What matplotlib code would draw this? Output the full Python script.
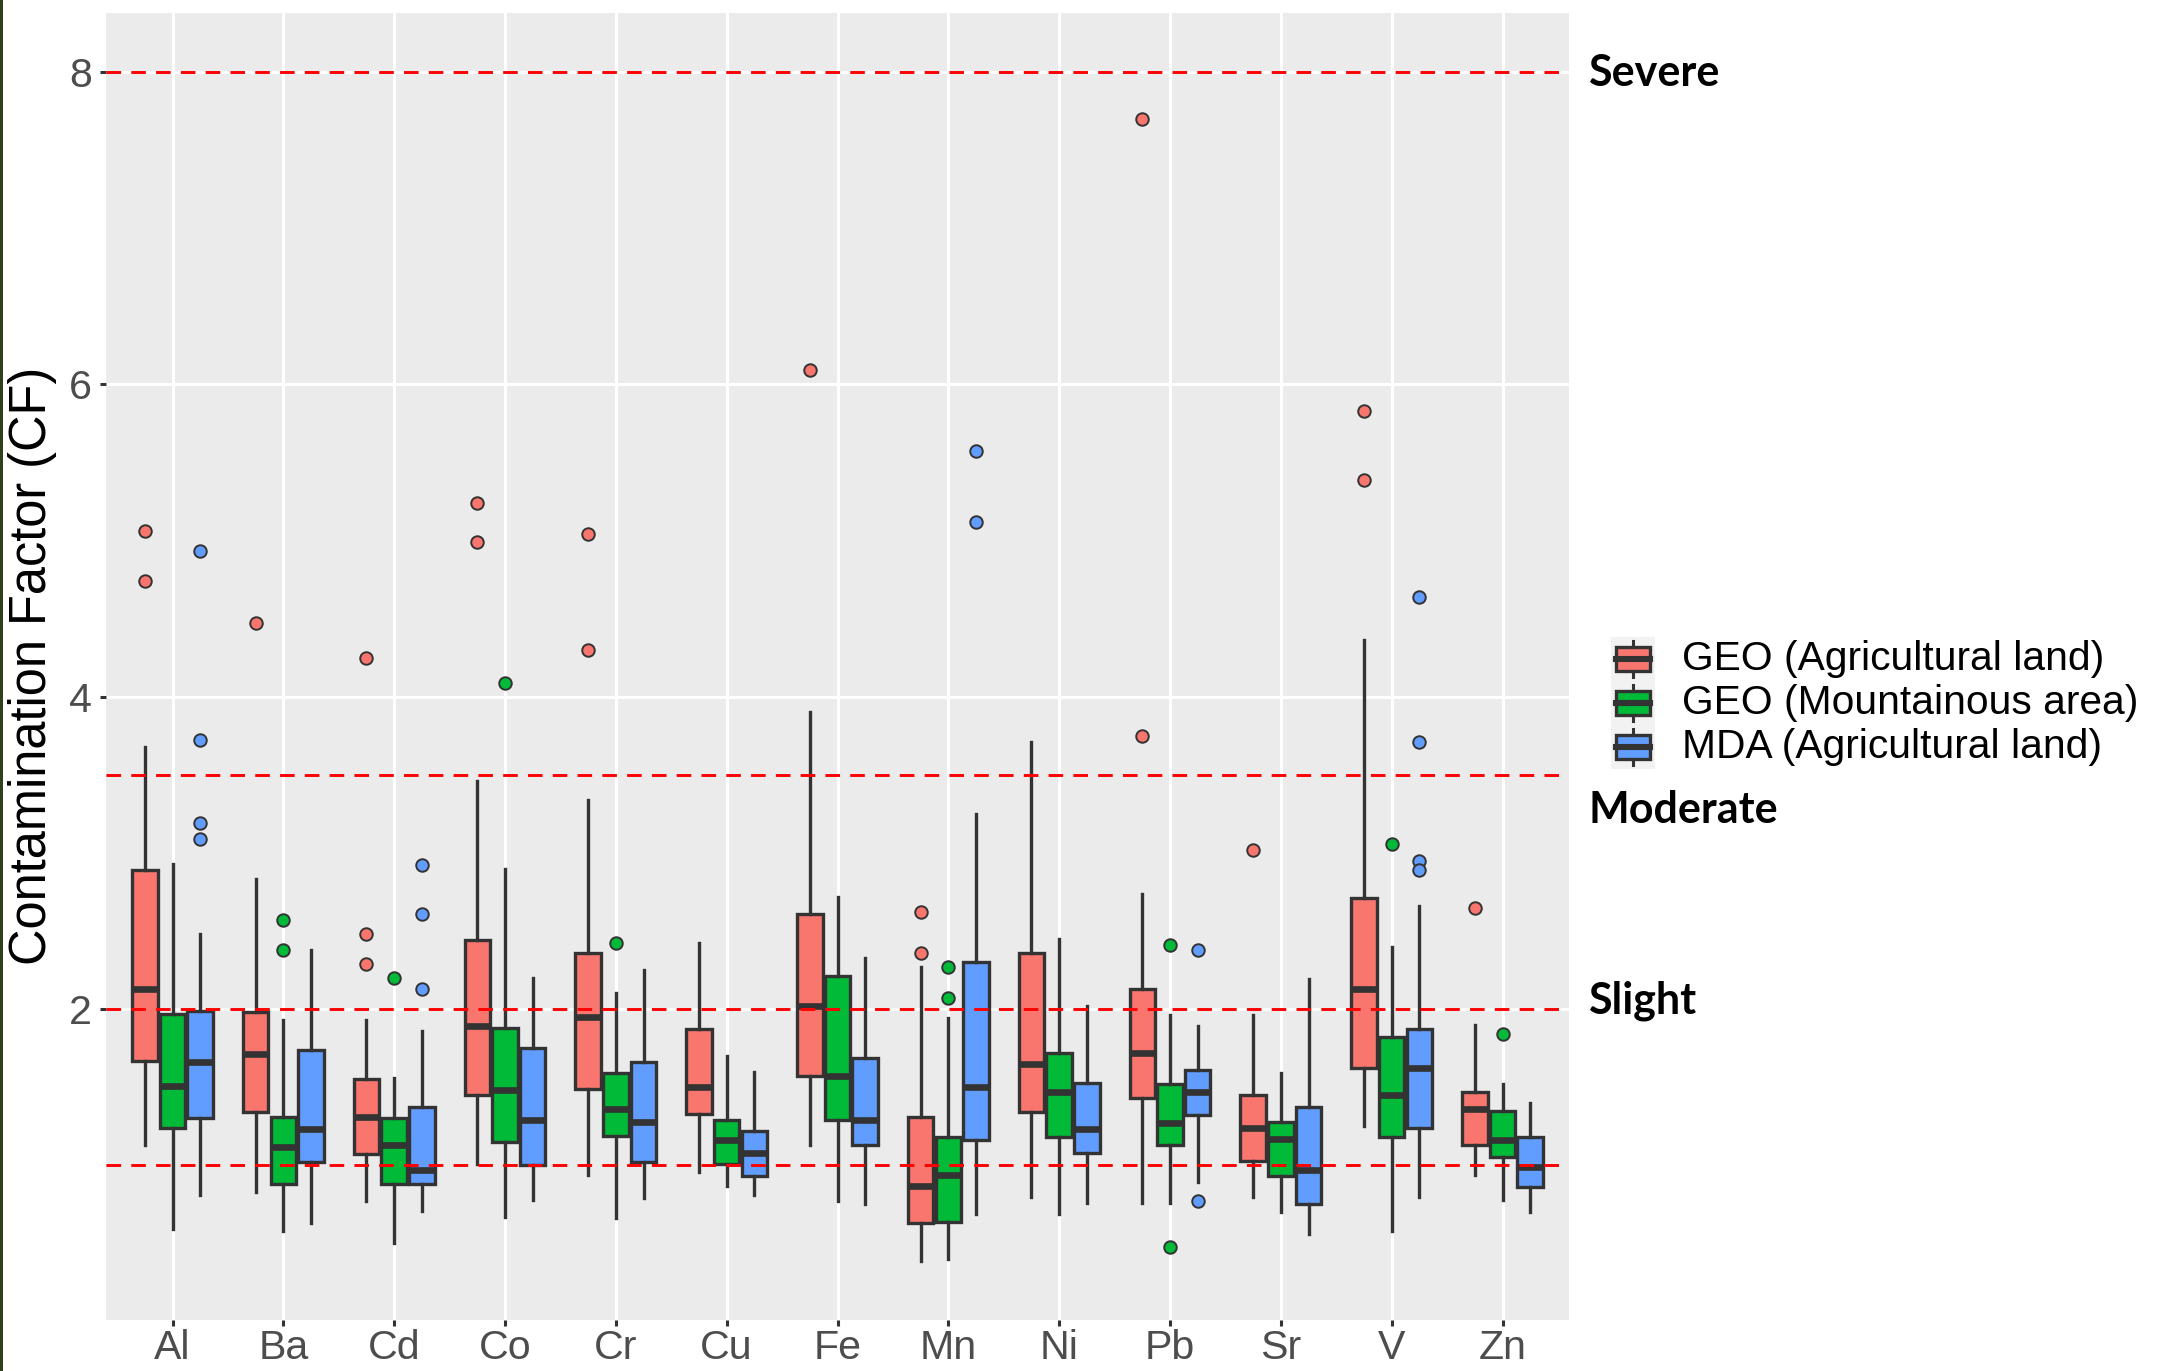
import numpy as np
import matplotlib
matplotlib.use("Agg")
import matplotlib.pyplot as plt
from matplotlib.patches import Rectangle
from matplotlib.lines import Line2D

plt.rcParams["font.family"] = ["Liberation Sans", "DejaVu Sans"]

elements = ["Al", "Ba", "Cd", "Co", "Cr", "Cu", "Fe", "Mn", "Ni", "Pb", "Sr", "V", "Zn"]
groups = ["GEO (Agricultural land)", "GEO (Mountainous area)", "MDA (Agricultural land)"]
colors = ["#F8766D", "#00BA38", "#619CFF"]

# GEO (Agricultural land)
geo_agri_q1 = [1.67, 1.34, 1.07, 1.45, 1.49, 1.33, 1.57, 0.63, 1.34, 1.43, 1.03, 1.62, 1.13]
geo_agri_med = [2.13, 1.71, 1.31, 1.89, 1.95, 1.50, 2.02, 0.87, 1.65, 1.72, 1.24, 2.13, 1.36]
geo_agri_q3 = [2.89, 1.98, 1.55, 2.44, 2.36, 1.87, 2.61, 1.31, 2.36, 2.13, 1.45, 2.71, 1.47]
geo_agri_lo = [1.13, 0.83, 0.77, 1.01, 0.94, 0.96, 1.13, 0.39, 0.80, 0.76, 0.80, 1.25, 0.94]
geo_agri_hi = [3.68, 2.83, 1.93, 3.46, 3.34, 2.42, 3.90, 2.27, 3.71, 2.74, 1.96, 4.36, 1.90]
geo_agri_out = [[5.06, 4.74], [4.47], [4.25, 2.48, 2.29], [5.24, 4.99], [5.04, 4.30], [],
                [6.09], [2.62, 2.36], [], [7.70, 3.75], [3.02], [5.83, 5.39], [2.65]]

# GEO (Mountainous area)
geo_mount_q1 = [1.24, 0.88, 0.88, 1.15, 1.19, 1.01, 1.29, 0.64, 1.18, 1.13, 0.93, 1.18, 1.05]
geo_mount_med = [1.51, 1.12, 1.13, 1.48, 1.36, 1.16, 1.57, 0.94, 1.47, 1.27, 1.17, 1.45, 1.16]
geo_mount_q3 = [1.97, 1.31, 1.30, 1.88, 1.59, 1.29, 2.21, 1.18, 1.72, 1.52, 1.28, 1.82, 1.35]
geo_mount_lo = [0.59, 0.58, 0.50, 0.67, 0.66, 0.87, 0.77, 0.40, 0.69, 0.76, 0.70, 0.58, 0.78]
geo_mount_hi = [2.93, 1.93, 1.56, 2.90, 2.10, 1.70, 2.72, 1.94, 2.45, 1.96, 1.59, 2.40, 1.52]
geo_mount_out = [[], [2.57, 2.38], [2.20], [4.09], [2.42], [], [], [2.27, 2.07], [],
                 [2.41, 0.48], [], [3.06], [1.84]]

# MDA (Agricultural land)
mda_agri_q1 = [1.30, 1.02, 0.88, 1.00, 1.02, 0.93, 1.13, 1.16, 1.08, 1.32, 0.75, 1.24, 0.86]
mda_agri_med = [1.66, 1.23, 0.97, 1.29, 1.28, 1.08, 1.29, 1.50, 1.23, 1.47, 0.97, 1.62, 0.99]
mda_agri_q3 = [1.99, 1.74, 1.37, 1.75, 1.66, 1.22, 1.69, 2.30, 1.53, 1.61, 1.37, 1.87, 1.18]
mda_agri_lo = [0.81, 0.63, 0.71, 0.78, 0.79, 0.81, 0.75, 0.69, 0.76, 0.89, 0.56, 0.80, 0.70]
mda_agri_hi = [2.48, 2.38, 1.86, 2.20, 2.25, 1.60, 2.33, 3.25, 2.02, 1.89, 2.19, 2.66, 1.40]
mda_agri_out = [[4.93, 3.72, 3.19, 3.09], [], [2.92, 2.61, 2.13], [], [], [], [],
                [5.57, 5.12], [], [2.38, 0.77], [], [4.64, 3.71, 2.95, 2.89], []]

thresholds = [8, 3.5, 2, 1]
class_labels = ["Severe", "Moderate", "Slight"]
class_label_y = [7.91, 3.19, 1.97]

series = [
    (geo_agri_q1, geo_agri_med, geo_agri_q3, geo_agri_lo, geo_agri_hi, geo_agri_out),
    (geo_mount_q1, geo_mount_med, geo_mount_q3, geo_mount_lo, geo_mount_hi, geo_mount_out),
    (mda_agri_q1, mda_agri_med, mda_agri_q3, mda_agri_lo, mda_agri_hi, mda_agri_out),
]

W, H = 2160, 1371
fig = plt.figure(figsize=(W / 200, H / 200), dpi=200)
ax = fig.add_axes([106 / W, 1 - 1320 / H, 1463 / W, 1307.5 / H])
ax.set_facecolor("#EBEBEB")

edge = "#333333"
x = np.arange(len(elements))
offsets = [-0.25, 0.0, 0.25]
for (q1, med, q3, lo, hi, out), col, off in zip(series, colors, offsets):
    stats = []
    for i in range(len(elements)):
        stats.append(dict(q1=q1[i], med=med[i], q3=q3[i], whislo=lo[i], whishi=hi[i],
                          fliers=np.array(out[i])))
    ax.bxp(stats, positions=x + off, widths=0.23, patch_artist=True, showcaps=False,
           boxprops=dict(facecolor=col, edgecolor=edge, linewidth=1.2),
           medianprops=dict(color=edge, linewidth=2.4, solid_capstyle="butt"),
           whiskerprops=dict(color=edge, linewidth=1.2),
           flierprops=dict(marker="o", markerfacecolor=col, markeredgecolor=edge,
                           markersize=4.5, markeredgewidth=0.7),
           manage_ticks=False)

for t in thresholds:
    ax.axhline(t, color="#FF0000", linewidth=1.05, linestyle=(0, (5, 3.5)), zorder=4)

lows = min(min(s[3]) for s in series)
lows = min([lows] + [v for s in series for o in s[5] for v in o])
highs = max(thresholds)
pad = 0.05 * (highs - lows)
ax.set_ylim(lows - pad, highs + pad)
ax.set_xlim(-0.6, len(elements) - 0.4)

ax.set_xticks(x)
ax.set_xticklabels(elements)
ax.set_yticks([2, 4, 6, 8])
ax.grid(True, color="white", linewidth=1.1)
ax.set_axisbelow(True)
for s in ax.spines.values():
    s.set_visible(False)
ax.tick_params(axis="both", colors=edge, labelcolor="#4D4D4D", labelsize=14.8,
               length=2.0, width=1.1)
ax.tick_params(axis="x", pad=1.3)
ax.tick_params(axis="y", pad=3)

ax.text(-0.0499, 0.5, "Contamination Factor (CF)", transform=ax.transAxes,
        rotation=90, ha="center", va="center", fontsize=18.2, color="black")

for lab, yv in zip(class_labels, class_label_y):
    ax.text(1.013, yv, lab, transform=ax.get_yaxis_transform(), ha="left",
            va="baseline", fontsize=15.5, fontweight="bold", family=["Lato", "DejaVu Sans"],
            color="black", clip_on=False)

# legend drawn by hand in pixel units
def fx(px):
    return px / W


def fy(py):
    return 1 - py / H


fig.add_artist(Rectangle((fx(1610.7), fy(769)), fx(1655) - fx(1610.7), (769 - 637) / H,
                         transform=fig.transFigure, facecolor="#F2F2F2", edgecolor="none"))
for k, (lab, col) in enumerate(zip(groups, colors)):
    cy = 659 + 44 * k
    fig.add_artist(Rectangle((fx(1616), fy(cy + 12)), fx(1650) - fx(1616), 24 / H,
                             transform=fig.transFigure, facecolor=col, edgecolor=edge,
                             linewidth=1.2))
    fig.add_artist(Line2D([fx(1616), fx(1650)], [fy(cy), fy(cy)], transform=fig.transFigure,
                          color=edge, linewidth=2.2))
    fig.add_artist(Line2D([fx(1633), fx(1633)], [fy(cy - 18), fy(cy - 12)],
                          transform=fig.transFigure, color=edge, linewidth=1.1))
    fig.add_artist(Line2D([fx(1633), fx(1633)], [fy(cy + 12), fy(cy + 18)],
                          transform=fig.transFigure, color=edge, linewidth=1.1))
    fig.text(fx(1681.7), fy(cy), lab, ha="left", va="center", fontsize=14.7, color="black")

# thin dark border on the left edge of the original image
fig.add_artist(Rectangle((0, 0), 3 / W, 1, transform=fig.transFigure,
                         facecolor="#2F401F", edgecolor="none"))

fig.savefig("out.png", dpi=200)
